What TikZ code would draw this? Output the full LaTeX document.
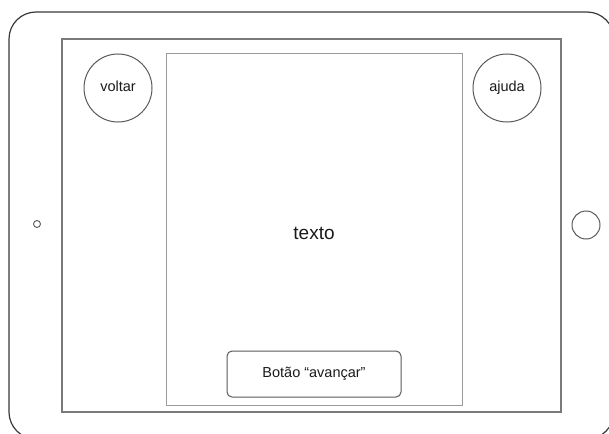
\documentclass[tikz,border=0pt]{standalone}
\usepackage{fontspec}
\setmainfont{Liberation Sans}
\definecolor{devline}{HTML}{3A3A3A}
\definecolor{screenline}{HTML}{7A7A7A}
\definecolor{panelline}{HTML}{9A9A9A}
\definecolor{circline}{HTML}{5A5A5A}
\definecolor{txt}{HTML}{1A1A1A}
\tikzset{
  devframe/.style={draw=devline, line width=1.2pt, rounded corners=27pt},
  screenbox/.style={draw=screenline, line width=1.3pt, rectangle, inner sep=0pt},
  panelbox/.style={draw=panelline, line width=1pt, rectangle, inner sep=0pt},
  roundbtn/.style={draw=circline, line width=1pt, circle, inner sep=0pt, minimum size=68pt, font=\fontsize{14.5}{17}\selectfont, text=txt, text height=10.5pt, text depth=3pt},
  nextbtn/.style={draw=circline, line width=1pt, rectangle, rounded corners=5pt, inner sep=0pt, minimum width=174pt, minimum height=46pt, font=\fontsize{14.5}{17}\selectfont, text=txt},
  camera/.style={draw=circline, line width=0.9pt, circle, inner sep=0pt, minimum size=7pt},
  homebtn/.style={draw=circline, line width=1pt, circle, inner sep=0pt, minimum size=28pt}
}
\begin{document}
\begin{tikzpicture}[x=1pt,y=-1pt]
\useasboundingbox (0,0) rectangle (609,433);
\clip (0,0) rectangle (609,433);
\fill[white] (0,0) rectangle (609,433);
% device outline
\draw[devframe] (9,12) rectangle (614,439);
% inner screen
\node[screenbox, minimum width=499pt, minimum height=373pt] (screen) at (311.5,225.5) {};
% text panel
\node[panelbox, minimum width=296pt, minimum height=351pt] (panel) at (314,229.5) {};
\node[font=\fontsize{19}{22}\selectfont, text=txt] (texto) at (314,233) {texto};
% buttons
\node[roundbtn] (voltar) at (118,88) {voltar};
\node[roundbtn] (ajuda) at (507,88) {ajuda};
\node[nextbtn] (avancar) at (314,374) {Botão “avançar”};
% camera and home button
\node[camera] (cam) at (37,224) {};
\node[homebtn] (home) at (586,225) {};
\end{tikzpicture}
\end{document}
